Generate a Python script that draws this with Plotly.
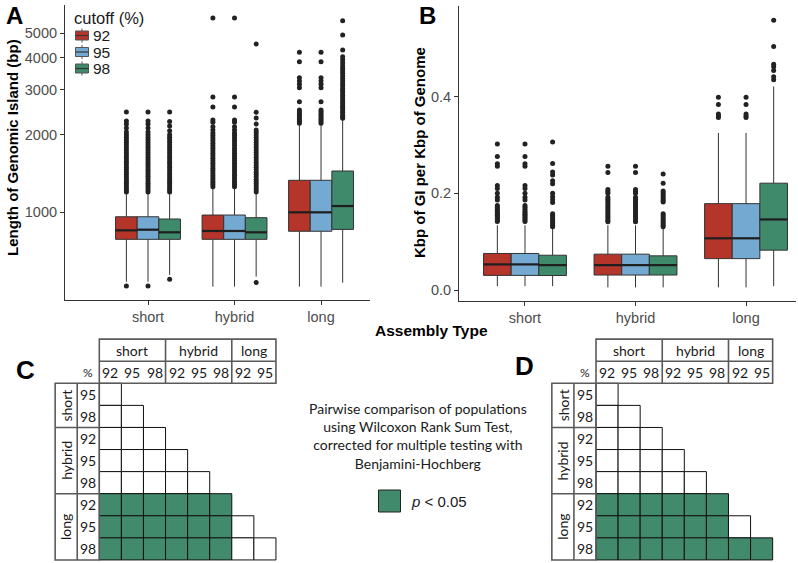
import plotly.graph_objects as go

W, H = 798, 563

CATEGORIES = ["short", "hybrid", "long"]
CUTOFFS = ["92", "95", "98"]
COLORS = ["#B5352B", "#74AAD2", "#408A6C"]
SIG_GREEN = "#418A6C"

# ---------- Panel A: Length of Genomic Island (bp); rows = category, cols = cutoff
A_Q1 = [[782, 782, 782], [782, 782, 782], [841, 841, 855]]
A_MED = [[848, 853, 833], [843, 843, 833], [997, 997, 1055]]
A_Q3 = [[958, 958, 939], [973, 973, 950], [1330, 1330, 1446]]
A_LOW = [[534, 534, 568], [511, 511, 559], [511, 511, 530]]
A_HIGH = [[1176, 1176, 1176], [1240, 1240, 1186], [2187, 2187, 2287]]
A_OUT = [
    [
        [514, 1197, 1218, 1241, 1266, 1292, 1318, 1346, 1374, 1404, 1434, 1465, 1497, 1530, 1563, 1598,
         1634, 1671, 1709, 1748, 1788, 1829, 1871, 1915, 1960, 2005, 2055, 2130, 2207, 2265, 2457],
        [514, 1197, 1220, 1244, 1270, 1296, 1322, 1350, 1378, 1406, 1436, 1466, 1498, 1530, 1562, 1596,
         1632, 1668, 1706, 1745, 1785, 1826, 1868, 1912, 1956, 2002, 2055, 2130, 2207, 2265, 2457],
        [546, 1197, 1219, 1242, 1267, 1292, 1318, 1345, 1373, 1402, 1432, 1463, 1495, 1528, 1561, 1596,
         1632, 1669, 1707, 1746, 1786, 1828, 1871, 1915, 1960, 2005, 2075, 2167, 2255, 2457],
    ],
    [
        [1255, 1280, 1306, 1333, 1361, 1390, 1420, 1451, 1483, 1516, 1550, 1585, 1621, 1658, 1696, 1735,
         1775, 1816, 1858, 1901, 1945, 1990, 2036, 2090, 2155, 2240, 2287, 2570, 2812, 5730],
        [1255, 1281, 1307, 1334, 1362, 1391, 1421, 1452, 1484, 1517, 1551, 1586, 1622, 1659, 1697, 1736,
         1776, 1817, 1859, 1902, 1946, 1991, 2037, 2090, 2155, 2240, 2287, 2570, 2812, 5730],
        [530, 1197, 1219, 1242, 1266, 1291, 1317, 1344, 1372, 1401, 1431, 1462, 1494, 1527, 1561, 1596,
         1632, 1669, 1707, 1746, 1786, 1827, 1869, 1912, 1956, 2000, 2045, 2091, 2207, 2330, 2454, 4530],
    ],
    [
        [2221, 2260, 2300, 2340, 2380, 2420, 2460, 2502, 2697, 3060, 3155, 3250, 3347, 3864, 4206],
        [2221, 2262, 2302, 2342, 2382, 2421, 2462, 2502, 2697, 3060, 3155, 3250, 3347, 3864, 4206],
        [2323, 2360, 2400, 2445, 2490, 2540, 2590, 2640, 2690, 2740, 2800, 2860, 2920, 2980, 3040, 3110,
         3180, 3250, 3320, 3400, 3480, 3560, 3640, 3730, 3830, 3930, 4043, 4294, 4910, 5589],
    ],
]
A_TICKS = [1000, 2000, 3000, 4000, 5000]

# ---------- Panel B: Kbp of GI per Kbp of Genome
B_Q1 = [[0.0303, 0.0303, 0.0300], [0.0310, 0.0310, 0.0310], [0.0650, 0.0650, 0.0825]]
B_MED = [[0.0530, 0.0530, 0.0515], [0.0515, 0.0515, 0.0515], [0.1070, 0.1070, 0.1460]]
B_Q3 = [[0.0756, 0.0756, 0.0720], [0.0742, 0.0742, 0.0707], [0.1787, 0.1787, 0.2210]]
B_LOW = [[0.0080, 0.0080, 0.0080], [0.0055, 0.0055, 0.0055], [0.0055, 0.0055, 0.0080]]
B_HIGH = [[0.134, 0.134, 0.127], [0.134, 0.134, 0.127], [0.325, 0.325, 0.421]]
B_OUT = [
    [
        [0.142, 0.145, 0.148, 0.151, 0.154, 0.157, 0.160, 0.163, 0.167, 0.171, 0.175, 0.186, 0.192,
         0.200, 0.210, 0.216, 0.256, 0.261, 0.276, 0.302],
        [0.142, 0.145, 0.148, 0.151, 0.154, 0.157, 0.160, 0.163, 0.167, 0.171, 0.175, 0.186, 0.192,
         0.200, 0.210, 0.216, 0.256, 0.261, 0.276, 0.302],
        [0.131, 0.134, 0.138, 0.142, 0.146, 0.150, 0.154, 0.158, 0.181, 0.187, 0.193, 0.200, 0.220,
         0.226, 0.238, 0.244, 0.262, 0.306],
    ],
    [
        [0.141, 0.144, 0.148, 0.152, 0.156, 0.160, 0.164, 0.168, 0.172, 0.176, 0.180, 0.184, 0.188,
         0.192, 0.200, 0.204, 0.208, 0.243, 0.256],
        [0.141, 0.144, 0.148, 0.152, 0.156, 0.160, 0.164, 0.168, 0.172, 0.176, 0.180, 0.184, 0.188,
         0.192, 0.200, 0.204, 0.208, 0.243, 0.256],
        [0.131, 0.134, 0.138, 0.142, 0.146, 0.150, 0.154, 0.158, 0.182, 0.185, 0.189, 0.193, 0.197,
         0.201, 0.205, 0.221, 0.240],
    ],
    [
        [0.357, 0.360, 0.364, 0.384, 0.399],
        [0.357, 0.360, 0.364, 0.384, 0.399],
        [0.435, 0.441, 0.454, 0.462, 0.467, 0.504, 0.558],
    ],
]
B_TICKS = [0.0, 0.2, 0.4]

# ---------- Panels C / D: pairwise Wilcoxon significance (lower triangle)
COL_LABELS = ["92", "95", "98", "92", "95", "98", "92", "95"]
COL_GROUPS = [("short", 0, 3), ("hybrid", 3, 6), ("long", 6, 8)]
ROW_LABELS = ["95", "98", "92", "95", "98", "92", "95", "98"]
ROW_GROUPS = [("short", 0, 2), ("hybrid", 2, 5), ("long", 5, 8)]
SIG_C = [
    [0],
    [0, 0],
    [0, 0, 0],
    [0, 0, 0, 0],
    [0, 0, 0, 0, 0],
    [1, 1, 1, 1, 1, 1],
    [1, 1, 1, 1, 1, 1, 0],
    [1, 1, 1, 1, 1, 1, 0, 0],
]
SIG_D = [
    [0],
    [0, 0],
    [0, 0, 0],
    [0, 0, 0, 0],
    [0, 0, 0, 0, 0],
    [1, 1, 1, 1, 1, 1],
    [1, 1, 1, 1, 1, 1, 0],
    [1, 1, 1, 1, 1, 1, 1, 1],
]

FONT = "Arial"
TFONT = "Lato"
AX_COL = "#333333"
TICK_COL = "#4D4D4D"


def px_x(p):
    return p / W


def px_y(p):
    return 1 - p / H


fig = go.Figure()

DODGE = 0.25


def add_boxes(Q1, MED, Q3, LOW, HIGH, OUT, xa, ya):
    for i, cat in enumerate(CATEGORIES):
        for j, cut in enumerate(CUTOFFS):
            pos = i + 1 + (j - 1) * DODGE
            fig.add_trace(go.Box(
                x=[pos], q1=[Q1[i][j]], median=[MED[i][j]], q3=[Q3[i][j]],
                lowerfence=[LOW[i][j]], upperfence=[HIGH[i][j]],
                orientation="v", width=DODGE, whiskerwidth=0, boxpoints=False,
                fillcolor=COLORS[j], line=dict(color=AX_COL, width=1),
                name=cut, showlegend=False,
                xaxis=xa, yaxis=ya, hoverinfo="skip",
            ))
            fig.add_trace(go.Scatter(
                x=[pos - DODGE / 2, pos + DODGE / 2], y=[MED[i][j], MED[i][j]],
                mode="lines", line=dict(color="#1E1E1E", width=2.2),
                showlegend=False, xaxis=xa, yaxis=ya, hoverinfo="skip",
            ))
            fig.add_trace(go.Scatter(
                x=[pos] * len(OUT[i][j]), y=OUT[i][j], mode="markers",
                marker=dict(size=5, color="#222222"),
                showlegend=False, xaxis=xa, yaxis=ya, hoverinfo="skip",
            ))


add_boxes(A_Q1, A_MED, A_Q3, A_LOW, A_HIGH, A_OUT, "x", "y")
add_boxes(B_Q1, B_MED, B_Q3, B_LOW, B_HIGH, B_OUT, "x2", "y2")

axis_style = dict(
    showline=True, linecolor=AX_COL, linewidth=1.1, ticks="outside", ticklen=4,
    tickcolor=AX_COL, tickwidth=1, showgrid=False, zeroline=False,
    tickfont=dict(family=FONT, size=14.5, color=TICK_COL), fixedrange=True,
)

# panel geometry (pixels)
A_x0, A_x1, A_y0, A_y1 = 65, 370, 5, 300
B_x0, B_x1, B_y0, B_y1 = 459, 796, 6, 301

fig.update_layout(
    xaxis=dict(domain=[px_x(A_x0), px_x(A_x1)], range=[0.0405, 3.566],
               tickvals=[1, 2, 3], ticktext=CATEGORIES, anchor="y", ticklabelstandoff=0, **axis_style),
    yaxis=dict(domain=[px_y(A_y1), px_y(A_y0)], type="log", range=[2.65625, 3.8086],
               tickvals=A_TICKS, ticktext=[str(t) for t in A_TICKS], anchor="x", **axis_style),
    xaxis2=dict(domain=[px_x(B_x0), px_x(B_x1)], range=[0.403, 3.452],
                tickvals=[1, 2, 3], ticktext=CATEGORIES, anchor="y2", ticklabelstandoff=0, **axis_style),
    yaxis2=dict(domain=[px_y(B_y1), px_y(B_y0)], range=[-0.0227, 0.5876],
                tickvals=B_TICKS, ticktext=["%.1f" % t for t in B_TICKS], anchor="x2", **axis_style),
)

shapes = []
annotations = []

# ---------- legend for cutoff (drawn as a key inside panel A)
annotations.append(dict(xref="paper", yref="paper", x=px_x(72), y=px_y(18), text="cutoff (%)",
                        showarrow=False, font=dict(family=FONT, size=16.5, color="#1A1A1A"),
                        xanchor="left", yanchor="middle"))
for j, cut in enumerate(CUTOFFS):
    cy = 35.5 + j * 16.5
    shapes.append(dict(type="line", xref="paper", yref="paper", x0=px_x(82), x1=px_x(82),
                       y0=px_y(cy - 7), y1=px_y(cy + 7), line=dict(color="#555555", width=1)))
    shapes.append(dict(type="rect", xref="paper", yref="paper", x0=px_x(75.5), x1=px_x(88.5),
                       y0=px_y(cy + 4.5), y1=px_y(cy - 4.5), fillcolor=COLORS[j],
                       line=dict(color="#555555", width=1)))
    shapes.append(dict(type="line", xref="paper", yref="paper", x0=px_x(75.5), x1=px_x(88.5),
                       y0=px_y(cy), y1=px_y(cy), line=dict(color="#333333", width=1.2)))
    annotations.append(dict(xref="paper", yref="paper", x=px_x(90.5), y=px_y(cy), text=cut,
                            showarrow=False, font=dict(family=FONT, size=15.5, color="#1A1A1A"),
                            xanchor="left", yanchor="middle"))

# ---------- tables on their own axes (cell units)
CW = 22.08
tables = [("x3", "y3", 99.3, SIG_C, "C", 25, 370), ("x4", "y4", 596.0, SIG_D, "D", 524, 366)]
Y0PX = 383.3
XR = [-2.2, 8.2]
YR = [8.1, -2.25]
for k, (xa, ya, x0px, SIG, letter, lx, ly) in enumerate(tables):
    xname = "xaxis" + xa[1:]
    yname = "yaxis" + ya[1:]
    fig.update_layout(**{
        xname: dict(domain=[px_x(x0px + XR[0] * CW), px_x(x0px + XR[1] * CW)], range=XR,
                    visible=False, fixedrange=True, anchor=ya),
        yname: dict(domain=[px_y(Y0PX + YR[0] * CW), px_y(Y0PX + YR[1] * CW)], range=YR,
                    visible=False, fixedrange=True, anchor=xa),
    })
    fig.add_trace(go.Scatter(x=[0], y=[0], mode="markers", marker=dict(opacity=0),
                             showlegend=False, xaxis=xa, yaxis=ya, hoverinfo="skip"))
    for r, row in enumerate(SIG):
        for c, s in enumerate(row):
            shapes.append(dict(type="rect", xref=xa, yref=ya, x0=c, x1=c + 1, y0=r, y1=r + 1,
                               line=dict(color="#111111", width=1),
                               fillcolor=SIG_GREEN if s else "white", layer="above"))
    gray = dict(color="#5A5A5A", width=1.6)
    ncol = len(COL_LABELS)
    nrow = len(ROW_LABELS)
    shapes.append(dict(type="rect", xref=xa, yref=ya, x0=0, x1=ncol, y0=-2, y1=0, line=gray))
    shapes.append(dict(type="line", xref=xa, yref=ya, x0=0, x1=ncol, y0=-1, y1=-1, line=gray))
    for name, a, b in COL_GROUPS[1:]:
        shapes.append(dict(type="line", xref=xa, yref=ya, x0=a, x1=a, y0=-2, y1=0, line=gray))
    shapes.append(dict(type="rect", xref=xa, yref=ya, x0=-2, x1=0, y0=0, y1=nrow, line=gray))
    shapes.append(dict(type="line", xref=xa, yref=ya, x0=-1, x1=-1, y0=0, y1=nrow, line=gray))
    for name, a, b in ROW_GROUPS[1:]:
        shapes.append(dict(type="line", xref=xa, yref=ya, x0=-2, x1=0, y0=a, y1=a, line=gray))
    tf = dict(family=TFONT, size=14, color="#1A1A1A")
    for name, a, b in COL_GROUPS:
        annotations.append(dict(xref=xa, yref=ya, x=(a + b) / 2, y=-1.5, text=name, showarrow=False,
                                font=tf, xanchor="center", yanchor="middle"))
    for c, lab in enumerate(COL_LABELS):
        annotations.append(dict(xref=xa, yref=ya, x=c + 0.5, y=-0.5, text=lab, showarrow=False,
                                font=tf, xanchor="center", yanchor="middle"))
    annotations.append(dict(xref=xa, yref=ya, x=-0.5, y=-0.5, text="%", showarrow=False,
                            font=dict(family=TFONT, size=12, color="#1A1A1A"),
                            xanchor="center", yanchor="middle"))
    for r, lab in enumerate(ROW_LABELS):
        annotations.append(dict(xref=xa, yref=ya, x=-0.5, y=r + 0.5, text=lab, showarrow=False,
                                font=tf, xanchor="center", yanchor="middle"))
    for name, a, b in ROW_GROUPS:
        annotations.append(dict(xref=xa, yref=ya, x=-1.5, y=(a + b) / 2, text=name, showarrow=False,
                                font=tf, textangle=-90, xanchor="center", yanchor="middle"))
    annotations.append(dict(xref="paper", yref="paper", x=px_x(lx), y=px_y(ly), text="<b>%s</b>" % letter,
                            showarrow=False, font=dict(family=FONT, size=26, color="black"),
                            xanchor="center", yanchor="middle"))

# significance key
shapes.append(dict(type="rect", xref="paper", yref="paper", x0=px_x(378.5), x1=px_x(400.5),
                   y0=px_y(512), y1=px_y(490), fillcolor=SIG_GREEN, line=dict(color="#222222", width=1)))
annotations.append(dict(xref="paper", yref="paper", x=px_x(409), y=px_y(502), text="<i>p</i> < 0.05",
                        showarrow=False, font=dict(family=FONT, size=15, color="#1A1A1A"),
                        xanchor="left", yanchor="middle"))
annotations.append(dict(xref="paper", yref="paper", x=px_x(418), y=px_y(436),
                        text="Pairwise comparison of populations<br>using Wilcoxon Rank Sum Test,<br>"
                             "corrected for multiple testing with<br>Benjamini-Hochberg",
                        showarrow=False, align="center", font=dict(family=TFONT, size=14, color="#1A1A1A"),
                        xanchor="center", yanchor="middle"))

# panel letters and axis titles
for letter, x in [("A", 14), ("B", 427)]:
    annotations.append(dict(xref="paper", yref="paper", x=px_x(x), y=1, text="<b>%s</b>" % letter,
                            showarrow=False, font=dict(family=FONT, size=24, color="black"),
                            xanchor="center", yanchor="top"))
annotations.append(dict(xref="paper", yref="paper", x=px_x(12), y=px_y(148),
                        text="<b>Length of Genomic Island (bp)</b>", textangle=-90, showarrow=False,
                        font=dict(family=FONT, size=15, color="black"), xanchor="center", yanchor="middle"))
annotations.append(dict(xref="paper", yref="paper", x=px_x(419), y=px_y(153),
                        text="<b>Kbp of GI per Kbp of Genome</b>", textangle=-90, showarrow=False,
                        font=dict(family=FONT, size=15, color="black"), xanchor="center", yanchor="middle"))
annotations.append(dict(xref="paper", yref="paper", x=px_x(431), y=px_y(330),
                        text="<b>Assembly Type</b>", showarrow=False,
                        font=dict(family=FONT, size=15.5, color="black"), xanchor="center", yanchor="middle"))

fig.update_layout(
    width=W, height=H, margin=dict(l=0, r=0, t=0, b=0),
    paper_bgcolor="white", plot_bgcolor="white",
    shapes=shapes, annotations=annotations,
    showlegend=False,
)

fig.write_html("out.html", config={"displayModeBar": False},
               post_script="document.body.style.margin='0';")
